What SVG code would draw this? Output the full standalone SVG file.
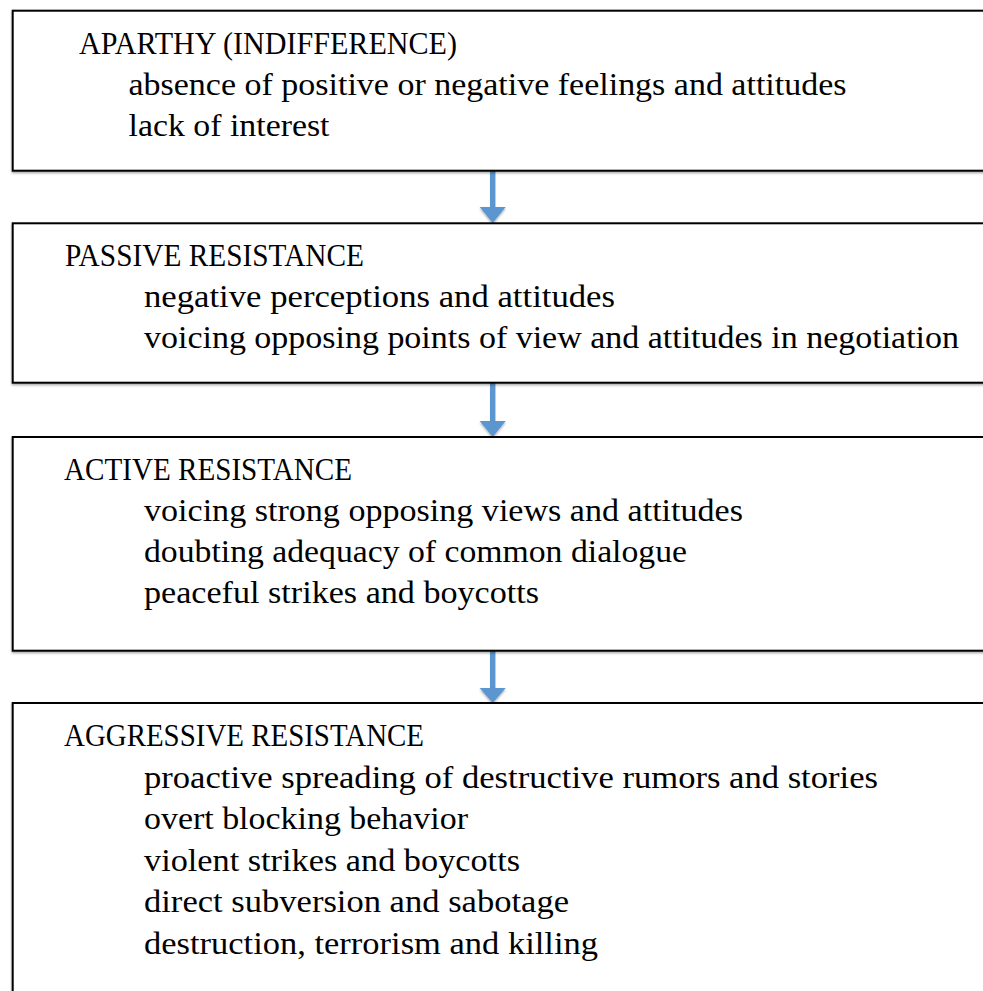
<svg xmlns="http://www.w3.org/2000/svg" width="983" height="991" viewBox="0 0 983 991">
  <style>
    .box { fill: #ffffff; stroke: #000000; stroke-width: 2; filter: url(#shadow); }
    .title { font-family: "Liberation Serif", "Times New Roman", serif; font-size: 31px; fill: #000000; }
    .item { font-family: "Liberation Serif", "Times New Roman", serif; font-size: 31px; fill: #000000; }
    .shaft { stroke: #5B96D0; stroke-width: 5.5; fill: none; }
    .head { fill: #5B96D0; filter: url(#shadow); }
  </style>
  <defs>
    <filter id="shadow" x="-5%" y="-5%" width="110%" height="120%">
      <feDropShadow dx="0" dy="1.5" stdDeviation="0.8" flood-color="#000000" flood-opacity="0.35"/>
    </filter>
  </defs>
  <rect width="983" height="991" fill="#ffffff"/>

  <!-- connectors between the stages -->
  <g id="connectors">
    <line class="shaft" x1="492.7" y1="171" x2="492.7" y2="208"/>
    <polygon class="head" points="479.7,207 505.7,207 492.7,223"/>
    <line class="shaft" x1="492.7" y1="383" x2="492.7" y2="422"/>
    <polygon class="head" points="479.7,421 505.7,421 492.7,437"/>
    <line class="shaft" x1="492.7" y1="651" x2="492.7" y2="689"/>
    <polygon class="head" points="479.7,688 505.7,688 492.7,703"/>
  </g>

  <g id="apathy">
    <rect class="box" x="12.7" y="10.7" width="1000" height="160"/>
    <text class="title" x="79" y="54" textLength="378" lengthAdjust="spacingAndGlyphs">APARTHY (INDIFFERENCE)</text>
    <text class="item" x="128.5" y="95" textLength="718" lengthAdjust="spacingAndGlyphs">absence of positive or negative feelings and attitudes</text>
    <text class="item" x="128.5" y="136" textLength="201" lengthAdjust="spacingAndGlyphs">lack of interest</text>
  </g>

  <g id="passive-resistance">
    <rect class="box" x="12.7" y="223.3" width="1000" height="159.4"/>
    <text class="title" x="65" y="266" textLength="299" lengthAdjust="spacingAndGlyphs">PASSIVE RESISTANCE</text>
    <text class="item" x="144" y="307" textLength="471" lengthAdjust="spacingAndGlyphs">negative perceptions and attitudes</text>
    <text class="item" x="144" y="348" textLength="815" lengthAdjust="spacingAndGlyphs">voicing opposing points of view and attitudes in negotiation</text>
  </g>

  <g id="active-resistance">
    <rect class="box" x="12.7" y="437" width="1000" height="213.7"/>
    <text class="title" x="64" y="480" textLength="288" lengthAdjust="spacingAndGlyphs">ACTIVE RESISTANCE</text>
    <text class="item" x="144" y="521" textLength="599" lengthAdjust="spacingAndGlyphs">voicing strong opposing views and attitudes</text>
    <text class="item" x="144" y="562" textLength="543" lengthAdjust="spacingAndGlyphs">doubting adequacy of common dialogue</text>
    <text class="item" x="144" y="603" textLength="395" lengthAdjust="spacingAndGlyphs">peaceful strikes and boycotts</text>
  </g>

  <g id="aggressive-resistance">
    <rect class="box" x="12.7" y="703" width="1000" height="320"/>
    <text class="title" x="64" y="746" textLength="360" lengthAdjust="spacingAndGlyphs">AGGRESSIVE RESISTANCE</text>
    <text class="item" x="144" y="787.5" textLength="734" lengthAdjust="spacingAndGlyphs">proactive spreading of destructive rumors and stories</text>
    <text class="item" x="144" y="829" textLength="324" lengthAdjust="spacingAndGlyphs">overt blocking behavior</text>
    <text class="item" x="144" y="870.5" textLength="376" lengthAdjust="spacingAndGlyphs">violent strikes and boycotts</text>
    <text class="item" x="144" y="912" textLength="425" lengthAdjust="spacingAndGlyphs">direct subversion and sabotage</text>
    <text class="item" x="144" y="953.5" textLength="454" lengthAdjust="spacingAndGlyphs">destruction, terrorism and killing</text>
  </g>
</svg>
